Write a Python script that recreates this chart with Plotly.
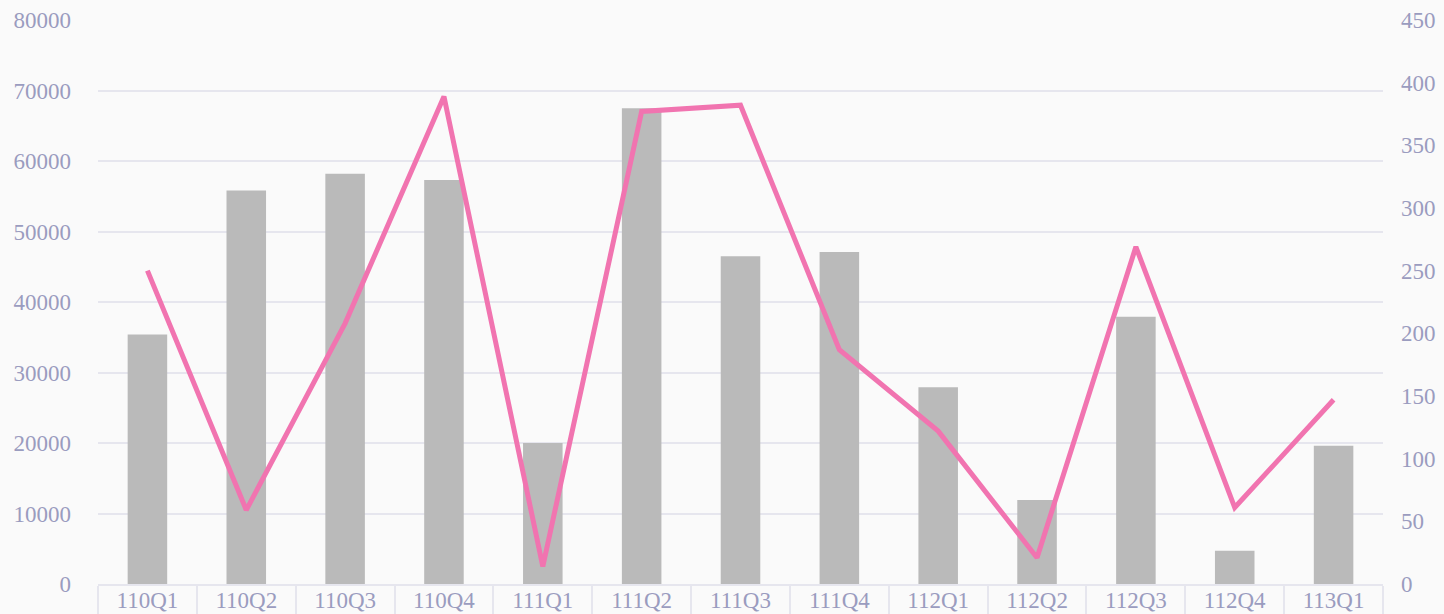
import plotly.graph_objects as go

categories = ["110Q1", "110Q2", "110Q3", "110Q4", "111Q1", "111Q2", "111Q3",
              "111Q4", "112Q1", "112Q2", "112Q3", "112Q4", "113Q1"]
bar_values = [35400, 55800, 58200, 57300, 20000, 67500, 46500,
              47100, 27900, 11900, 37900, 4700, 19600]
line_values = [250, 59, 208, 389, 14, 377, 382,
               187, 122, 21, 269, 61, 147]
left_ticks = [0, 10000, 20000, 30000, 40000, 50000, 60000, 70000, 80000]
left_tick_text = ["0", "10000", "20000", "30000", "40000", "50000", "60000", "70000", "80000"]
right_ticks = [0, 50, 100, 150, 200, 250, 300, 350, 400, 450]

font_color = "#9a9cbf"
grid_color = "#e6e6ee"
bg = "#fafafa"

fig = go.Figure()
fig.add_trace(go.Bar(x=categories, y=bar_values, marker_color="#bababa",
                     marker_line_width=0, yaxis="y"))
fig.add_trace(go.Scatter(x=categories, y=line_values, mode="lines",
                         line=dict(color="#f174b0", width=5), yaxis="y2"))

fig.update_layout(
    width=1444, height=614,
    margin=dict(l=98, r=61, t=20, b=30, autoexpand=False),
    paper_bgcolor=bg, plot_bgcolor=bg,
    showlegend=False,
    bargap=0.6,
    font=dict(family="Liberation Serif", size=23, color=font_color),
    xaxis=dict(
        type="category", automargin=False,
        showline=True, linecolor=grid_color, linewidth=2,
        ticks="outside", tickson="boundaries", ticklen=40,
        tickcolor=grid_color, tickwidth=2,
        ticklabelstandoff=-6,
        showgrid=False,
    ),
    yaxis=dict(
        range=[0, 80000], tickvals=left_ticks, ticktext=left_tick_text,
        automargin=False,
        showgrid=True, gridcolor=grid_color, gridwidth=2,
        zeroline=False, showline=False, ticks="",
        ticklabelstandoff=26,
    ),
    yaxis2=dict(
        range=[0, 450], tickvals=right_ticks, automargin=False,
        overlaying="y", side="right",
        showgrid=False, zeroline=False, showline=False, ticks="",
        ticklabelstandoff=17,
    ),
)

fig.write_html(
    "out.html",
    config={"displayModeBar": False},
    post_script="document.body.style.margin='0';document.body.style.background='#fafafa';",
)
